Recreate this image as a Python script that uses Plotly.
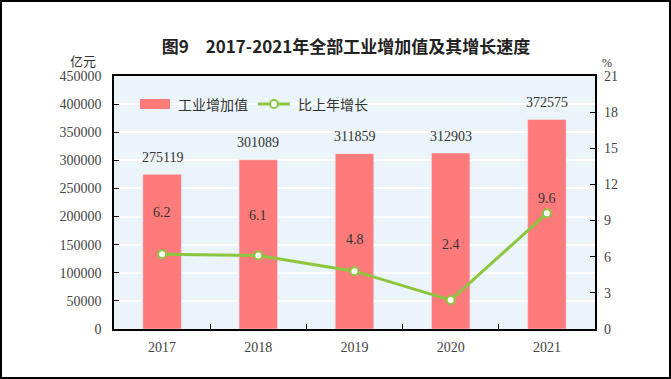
import plotly.graph_objects as go

years = ["2017", "2018", "2019", "2020", "2021"]
value_added = [275119, 301089, 311859, 312903, 372575]
growth = [6.2, 6.1, 4.8, 2.4, 9.6]
growth_label_shift = [42, 40, 32, 56, 15]

title = "图9　2017-2021年全部工业增加值及其增长速度"
left_unit = "亿元"
right_unit = "%"
bar_name = "工业增加值"
line_name = "比上年增长"

W, H = 671, 379
L, R, T, B = 114, 595, 76, 329
pw, ph = R - L, B - T

def px(x):
    return (x - L) / pw

def py(y):
    return (B - y) / ph

bar_color = "#FF7B7B"
line_color = "#8CC63F"
serif = "Liberation Serif, DejaVu Serif, serif"
cjk = "Noto Sans CJK SC, sans-serif"
tick_color = "#444444"

fig = go.Figure()
fig.add_trace(go.Bar(x=years, y=value_added, marker_color=bar_color, width=0.4,
                     showlegend=False, name=bar_name, yaxis="y"))
fig.add_trace(go.Scatter(x=years, y=growth, mode="lines+markers", yaxis="y2",
                         line=dict(color=line_color, width=3),
                         marker=dict(size=8, color="white", line=dict(color=line_color, width=2)),
                         showlegend=False, name=line_name))

annotations = []
for i, v in enumerate(value_added):
    annotations.append(dict(x=i, y=v, xref="x", yref="y", text=str(v), showarrow=False,
                            yanchor="middle", yshift=17,
                            font=dict(family=serif, size=14, color="#333333")))
for i, (g, s) in enumerate(zip(growth, growth_label_shift)):
    annotations.append(dict(x=i, y=g, xref="x", yref="y2", text=f"{g:.1f}", showarrow=False,
                            yanchor="middle", yshift=s,
                            font=dict(family=serif, size=14, color="#333333")))

annotations += [
    dict(x=px(83), y=py(61), xref="paper", yref="paper", text=left_unit, showarrow=False,
         xanchor="center", yanchor="middle", font=dict(family=cjk, size=13, color="#333333")),
    dict(x=px(607), y=py(63), xref="paper", yref="paper", text=right_unit, showarrow=False,
         xanchor="center", yanchor="middle", font=dict(family=serif, size=12, color="#333333")),
    dict(x=px(176), y=py(104), xref="paper", yref="paper", text=bar_name, showarrow=False,
         xanchor="left", yanchor="middle", font=dict(family=cjk, size=14, color="#333333")),
    dict(x=px(296), y=py(104), xref="paper", yref="paper", text=line_name, showarrow=False,
         xanchor="left", yanchor="middle", font=dict(family=cjk, size=14, color="#333333")),
]

shapes = [
    dict(type="rect", xref="paper", yref="paper", x0=px(140), x1=px(170), y0=py(109), y1=py(99),
         fillcolor=bar_color, line=dict(width=0)),
    dict(type="line", xref="paper", yref="paper", x0=px(258), x1=px(290), y0=py(104), y1=py(104),
         line=dict(color=line_color, width=3)),
    dict(type="circle", xref="paper", yref="paper", x0=px(270), x1=px(278), y0=py(108), y1=py(100),
         fillcolor="white", line=dict(color=line_color, width=2)),
    dict(type="rect", xref="paper", yref="paper", x0=px(1), x1=px(670), y0=py(378), y1=py(1),
         line=dict(color="black", width=2), fillcolor="rgba(0,0,0,0)", layer="above"),
]

fig.update_layout(
    width=W, height=H,
    margin=dict(l=L, r=W - R, t=T, b=H - B),
    paper_bgcolor="white",
    plot_bgcolor="#EAF4F9",
    title=dict(text=f"<b>{title}</b>", x=px(346), xref="paper", y=1 - 47 / H, yanchor="middle",
               xanchor="center", font=dict(family=cjk, size=17, color="#222222")),
    xaxis=dict(type="category", range=[-0.5, len(years) - 0.5], autorange=False,
               showline=True, linecolor="black", linewidth=1.5, mirror=True,
               ticks="inside", tickson="boundaries", ticklen=5, tickcolor="black",
               ticklabelstandoff=4,
               tickfont=dict(family=serif, size=14, color=tick_color), showgrid=False),
    yaxis=dict(range=[0, 450000], dtick=50000, tickformat="d", showline=True, linecolor="black",
               linewidth=1.5, mirror=True, ticks="inside", ticklen=5, tickcolor="black",
               showgrid=True, gridcolor="white", gridwidth=1.5, zeroline=False,
               ticklabelstandoff=8,
               tickfont=dict(family=serif, size=14, color=tick_color)),
    yaxis2=dict(range=[0, 21], dtick=3, overlaying="y", side="right", showgrid=False,
                ticks="inside", ticklen=5, tickcolor="black", zeroline=False,
                ticklabelstandoff=8,
                tickfont=dict(family=serif, size=14, color=tick_color)),
    annotations=annotations,
    shapes=shapes,
    bargap=0.6,
)

fig.write_html("out.html", config={"displayModeBar": False},
               post_script="document.body.style.margin='0';document.body.style.overflow='hidden';")
